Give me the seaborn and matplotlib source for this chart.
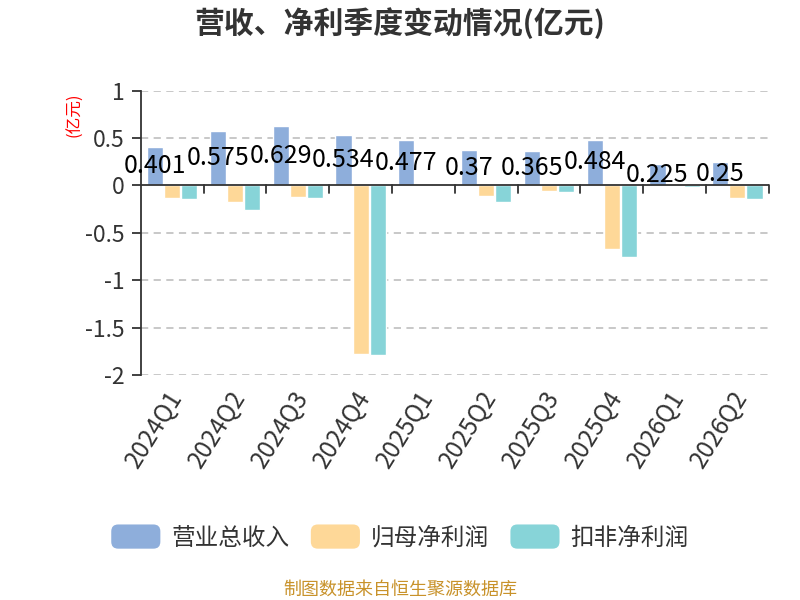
import matplotlib
matplotlib.use("Agg")
import matplotlib.pyplot as plt
import seaborn as sns
import pandas as pd
import numpy as np
from matplotlib.patches import FancyBboxPatch
from matplotlib.legend_handler import HandlerPatch

quarters = ["2024Q1", "2024Q2", "2024Q3", "2024Q4", "2025Q1",
            "2025Q2", "2025Q3", "2025Q4", "2026Q1", "2026Q2"]
revenue = [0.401, 0.575, 0.629, 0.534, 0.477, 0.37, 0.365, 0.484, 0.225, 0.25]
net_profit = [-0.13, -0.18, -0.12, -1.78, 0.005, -0.11, -0.06, -0.67, 0.008, -0.135]
deducted_profit = [-0.145, -0.26, -0.13, -1.79, -0.005, -0.18, -0.065, -0.76, -0.015, -0.14]
series_names = ["营业总收入", "归母净利润", "扣非净利润"]
colors = ["#8eaedb", "#fed898", "#87d4d8"]

sns.set_theme(style="white")
plt.rcParams['font.family'] = ['Noto Sans CJK SC', 'DejaVu Sans']

df = pd.DataFrame({
    "quarter": quarters * 3,
    "value": revenue + net_profit + deducted_profit,
    "series": [series_names[0]] * len(quarters) + [series_names[1]] * len(quarters) + [series_names[2]] * len(quarters),
})

fig = plt.figure(figsize=(8, 6), dpi=100)
ax = fig.add_axes([0.176, 0.375, 0.785, 0.474])
sns.barplot(data=df, x="quarter", y="value", hue="series", palette=colors,
            hue_order=series_names, order=quarters, width=0.82, gap=0.06,
            ax=ax, legend=False, saturation=1)

ax.set_ylim(-2, 1)
ax.set_xlim(-0.5, len(quarters) - 0.5)
ax.set_yticks([1, 0.5, 0, -0.5, -1, -1.5, -2])
ax.set_yticklabels(["1", "0.5", "0", "-0.5", "-1", "-1.5", "-2"], fontsize=16.5, color="#333333")
ax.set_xlabel("")
ax.set_ylabel("")
for y in [1, 0.5, -0.5, -1, -1.5, -2]:
    ax.axhline(y, color="#c4c4c4", lw=1.3, ls=(0, (4, 3)), zorder=0)
ax.axhline(0, color="#333333", lw=1.3, zorder=3)
for s in ["top", "right", "bottom"]:
    ax.spines[s].set_visible(False)
ax.spines["left"].set_color("#333333")
ax.spines["left"].set_linewidth(1.3)
ax.tick_params(axis="y", left=True, length=6.5, width=1.3, color="#333333", pad=5)
ax.tick_params(axis="x", bottom=False, labelsize=17.5, labelcolor="#333333", pad=2)
ax.set_xticks(range(len(quarters)))
ax.set_xticklabels(quarters, rotation=58, ha="right", rotation_mode="anchor")
for lbl in ax.get_xticklabels():
    lbl.set_x(lbl.get_position()[0])
# nudge x labels slightly left to match the reference
import matplotlib.transforms as mtransforms
offset = mtransforms.ScaledTranslation(-6 / 100, 0, fig.dpi_scale_trans)
for lbl in ax.get_xticklabels():
    lbl.set_transform(lbl.get_transform() + offset)

# category boundary ticks on the zero line
for b in np.arange(0.5, len(quarters), 1.0):
    ax.plot([b, b], [0, -0.08], color="#333333", lw=1.3, zorder=3, clip_on=False)

# value labels in the middle of revenue bars
bars = ax.containers[0]
for rect, v in zip(bars, revenue):
    cx = rect.get_x() + rect.get_width() / 2
    ax.text(cx, v / 2, f"{v:g}", ha="center", va="center", fontsize=18, color="#000000", zorder=5)

fig.text(0.5, 0.962, "营收、净利季度变动情况(亿元)", ha="center", va="center",
         fontsize=21.5, fontweight="bold", color="#333333")
fig.text(0.094, 0.808, "(亿元)", ha="center", va="center", rotation=90, fontsize=12, color="red")


class RoundHandler(HandlerPatch):
    def create_artists(self, legend, orig_handle, xdescent, ydescent, width, height, fontsize, trans):
        p = FancyBboxPatch((-xdescent, -ydescent), width, height,
                           boxstyle="round,pad=0,rounding_size=5",
                           facecolor=orig_handle.get_facecolor(), edgecolor="none", transform=trans)
        return [p]


handles = [plt.Rectangle((0, 0), 1, 1, facecolor=c) for c in colors]
leg = fig.legend(handles, series_names, loc="center", bbox_to_anchor=(0.5, 0.105), ncol=3,
                 frameon=False, fontsize=17, handlelength=2.08, handleheight=1.2,
                 columnspacing=0.9, handletextpad=0.47,
                 handler_map={plt.Rectangle: RoundHandler()})
for t in leg.get_texts():
    t.set_color("#333333")

fig.text(0.5, 0.017, "制图数据来自恒生聚源数据库", ha="center", va="center", fontsize=13, color="#c8922a")

fig.savefig("out.png", dpi=100)
